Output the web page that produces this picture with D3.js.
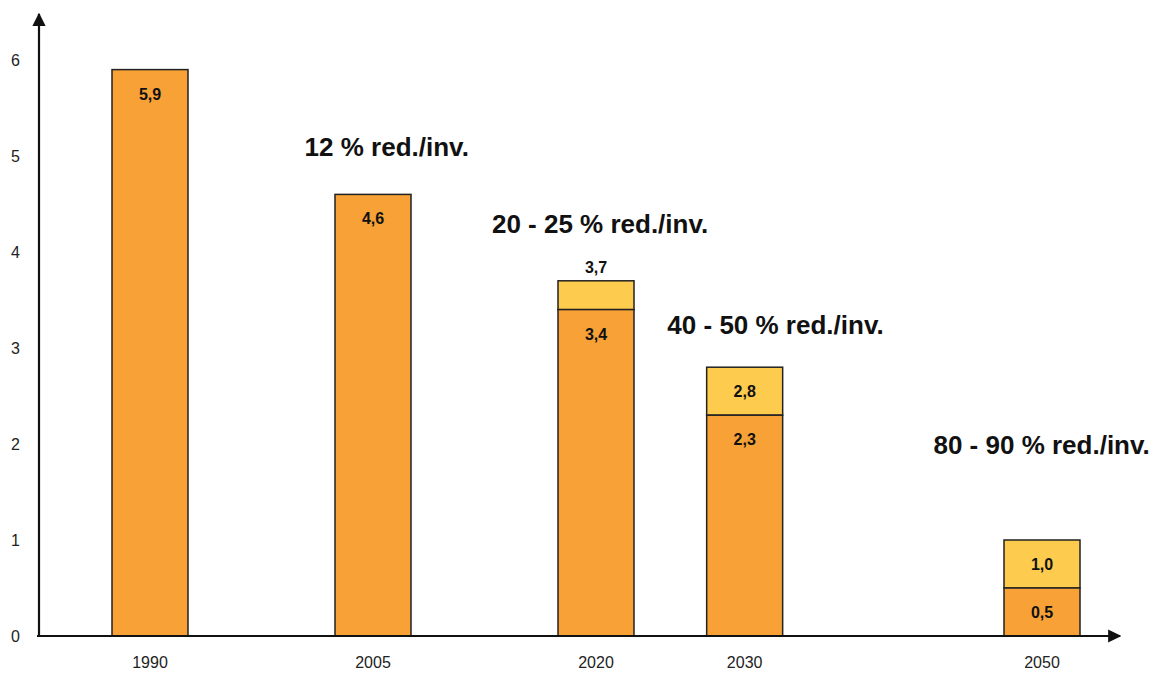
<!DOCTYPE html>
<html><head><meta charset="utf-8">
<script src="https://cdn.jsdelivr.net/npm/d3@7"></script>
<style>body{margin:0;background:#fff}svg{display:block;font-family:"Liberation Sans",Arial,sans-serif}</style>
</head><body><svg id="c" width="1154" height="673"></svg>
<script>
const years = [1990, 2005, 2020, 2030, 2050];
const baseValues = [5.9, 4.6, 3.4, 2.3, 0.5];
const upperValues = [null, null, 3.7, 2.8, 1.0];
const yTicks = [0, 1, 2, 3, 4, 5, 6];
const annotationTexts = ["12 % red./inv.", "20 - 25 % red./inv.", "40 - 50 % red./inv.", "80 - 90 % red./inv."];
const annotationYears = [2000.4, 2013.0, 2024.8, 2042.7];
const annotationValues = [5.0, 4.2, 3.15, 1.9];

const svg = d3.select("#c");
const x = d3.scaleLinear().domain([1990, 2050]).range([150, 1042]);
const y = d3.scaleLinear().domain([0, 6]).range([636, 60]);
const bw = 76;
const orange = "#F7A136", yellow = "#FDCB4E";

const defs = svg.append("defs");
defs.append("marker").attr("id","arr").attr("viewBox","0 0 10 10").attr("refX",9).attr("refY",5)
  .attr("markerWidth",6).attr("markerHeight",6).attr("orient","auto-start-reverse")
  .append("path").attr("d","M0,0L10,5L0,10z").attr("fill","#111");

const data = years.map((yr,i)=>({yr, base: baseValues[i], up: upperValues[i]}));
const g = svg.append("g");
const fmt = v => v.toFixed(1).replace(".", ",");
data.forEach(d=>{
  if (d.up != null) {
    g.append("rect").attr("x", x(d.yr)-bw/2).attr("y", y(d.up)).attr("width", bw)
      .attr("height", y(d.base)-y(d.up)).attr("fill", yellow).attr("stroke","#222").attr("stroke-width",1.5);
  }
  g.append("rect").attr("x", x(d.yr)-bw/2).attr("y", y(d.base)).attr("width", bw)
    .attr("height", y(0)-y(d.base)).attr("fill", orange).attr("stroke","#222").attr("stroke-width",1.5);
  g.append("text").attr("x", x(d.yr)).attr("y", y(d.base)+30).attr("text-anchor","middle")
    .attr("font-size",16).attr("font-weight","bold").attr("fill","#111").text(fmt(d.base));
  if (d.up != null) {
    const h = y(d.base)-y(d.up);
    const ty = h < 35 ? y(d.up)-8 : (y(d.up)+y(d.base))/2+6;
    g.append("text").attr("x", x(d.yr)).attr("y", ty).attr("text-anchor","middle")
      .attr("font-size",16).attr("font-weight","bold").attr("fill","#111").text(fmt(d.up));
  }
});

svg.append("line").attr("x1",39).attr("x2",39).attr("y1",y(0)+1).attr("y2",14)
  .attr("stroke","#111").attr("stroke-width",2.2).attr("marker-end","url(#arr)");
svg.append("line").attr("x1",37).attr("x2",1120).attr("y1",y(0)).attr("y2",y(0))
  .attr("stroke","#111").attr("stroke-width",2.2).attr("marker-end","url(#arr)");

svg.append("g").selectAll("text").data(yTicks).join("text")
  .attr("x",20).attr("y",d=>y(d)+6).attr("text-anchor","end").attr("font-size",16).attr("fill","#222").text(d=>d);

svg.append("g").selectAll("text").data(years).join("text")
  .attr("x",d=>x(d)).attr("y",668).attr("text-anchor","middle").attr("font-size",16).attr("fill","#222").text(d=>d);

svg.append("g").selectAll("text").data(annotationTexts).join("text")
  .attr("x",(d,i)=>x(annotationYears[i])).attr("y",(d,i)=>y(annotationValues[i]))
  .attr("font-size",26).attr("font-weight","bold").attr("fill","#111").text(d=>d);
</script></body></html>
